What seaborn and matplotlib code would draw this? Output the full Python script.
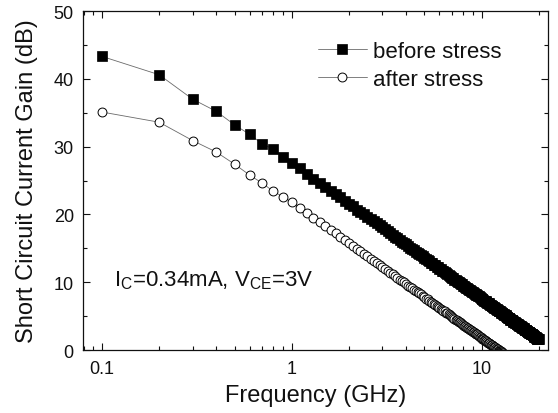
import numpy as np
import matplotlib
matplotlib.use("Agg")
import matplotlib.pyplot as plt
from matplotlib.ticker import LogLocator, MultipleLocator, FixedLocator, FixedFormatter
import seaborn as sns

# Frequency sweep: 0.1 GHz to 20 GHz in 0.1 GHz steps
freq_ghz = np.round(np.arange(1, 201) * 0.1, 1)

# Short-circuit current gain |h21| in dB, before stress (0.1 ... 20.0 GHz)
gain_before = [
    43.3, 40.6, 37.0, 35.2, 33.2, 31.8, 30.4, 29.6, 28.4,
    27.6, 26.8, 26.0, 25.3, 24.7, 24.1, 23.5, 23.0, 22.5, 22.0,
    21.6, 21.2, 20.7, 20.4, 20.0, 19.6, 19.3, 19.0, 18.7, 18.4,
    18.1, 17.8, 17.5, 17.2, 17.0, 16.7, 16.5, 16.2, 16.0, 15.8,
    15.6, 15.3, 15.1, 14.9, 14.7, 14.5, 14.3, 14.2, 14.0, 13.8,
    13.6, 13.4, 13.3, 13.1, 12.9, 12.8, 12.6, 12.5, 12.3, 12.2,
    12.0, 11.9, 11.7, 11.6, 11.5, 11.3, 11.2, 11.1, 10.9, 10.8,
    10.7, 10.6, 10.4, 10.3, 10.2, 10.1, 10.0, 9.9, 9.8, 9.7,
    9.5, 9.4, 9.3, 9.2, 9.1, 9.0, 8.9, 8.8, 8.7, 8.6,
    8.5, 8.4, 8.3, 8.2, 8.1, 8.1, 8.0, 7.9, 7.8, 7.7,
    7.6, 7.5, 7.4, 7.3, 7.3, 7.2, 7.1, 7.0, 6.9, 6.9,
    6.8, 6.7, 6.6, 6.5, 6.5, 6.4, 6.3, 6.2, 6.2, 6.1,
    6.0, 5.9, 5.9, 5.8, 5.7, 5.7, 5.6, 5.5, 5.5, 5.4,
    5.3, 5.3, 5.2, 5.1, 5.1, 5.0, 4.9, 4.9, 4.8, 4.7,
    4.7, 4.6, 4.5, 4.5, 4.4, 4.4, 4.3, 4.2, 4.2, 4.1,
    4.1, 4.0, 4.0, 3.9, 3.9, 3.8, 3.7, 3.7, 3.6, 3.6,
    3.5, 3.5, 3.4, 3.4, 3.3, 3.3, 3.2, 3.2, 3.1, 3.0,
    3.0, 2.9, 2.9, 2.8, 2.8, 2.7, 2.7, 2.6, 2.6, 2.5,
    2.5, 2.5, 2.4, 2.4, 2.3, 2.3, 2.2, 2.2, 2.1, 2.1,
    2.0, 2.0, 1.9, 1.9, 1.8, 1.8, 1.7, 1.7, 1.7, 1.6,
    1.6,
]

# Same quantity after stress (0.1 ... 13.0 GHz, beyond that it falls below 0 dB)
gain_after = [
    35.1, 33.6, 30.9, 29.2, 27.4, 25.8, 24.6, 23.4, 22.6,
    21.8, 21.0, 20.2, 19.5, 18.9, 18.3, 17.7, 17.2, 16.7, 16.2,
    15.8, 15.4, 14.9, 14.6, 14.2, 13.8, 13.5, 13.2, 12.9, 12.6,
    12.3, 12.0, 11.7, 11.4, 11.2, 10.9, 10.7, 10.4, 10.2, 10.0,
    9.8, 9.5, 9.3, 9.1, 8.9, 8.7, 8.5, 8.4, 8.2, 8.0,
    7.8, 7.6, 7.5, 7.3, 7.1, 7.0, 6.8, 6.7, 6.5, 6.4,
    6.2, 6.1, 5.9, 5.8, 5.7, 5.5, 5.4, 5.3, 5.1, 5.0,
    4.9, 4.8, 4.6, 4.5, 4.4, 4.3, 4.2, 4.1, 4.0, 3.9,
    3.7, 3.6, 3.5, 3.4, 3.3, 3.2, 3.1, 3.0, 2.9, 2.8,
    2.7, 2.6, 2.5, 2.4, 2.3, 2.3, 2.2, 2.1, 2.0, 1.9,
    1.8, 1.7, 1.6, 1.5, 1.5, 1.4, 1.3, 1.2, 1.1, 1.1,
    1.0, 0.9, 0.8, 0.7, 0.7, 0.6, 0.5, 0.4, 0.4, 0.3,
    0.2, 0.1, 0.1, 0.0, -0.1, -0.1, -0.2, -0.3, -0.3, -0.4,
    -0.5,
]

series_labels = ["before stress", "after stress"]
x_tick_values = [0.1, 1, 10]
x_tick_labels = ["0.1", "1", "10"]
condition_text = r"I$_\mathregular{C}$=0.34mA, V$_\mathregular{CE}$=3V"

sns.set_theme(style="ticks")
plt.rcParams["font.family"] = ["Liberation Sans", "DejaVu Sans"]
plt.rcParams["mathtext.default"] = "regular"

ink = "#111111"
fig = plt.figure(figsize=(5.58, 4.14), dpi=100)
ax = fig.add_axes([0.1496, 0.152, 0.8324, 0.819])

line_col = "#6a6a6a"
sns.lineplot(x=freq_ghz[:len(gain_before)], y=gain_before, ax=ax,
             color=line_col, linewidth=0.6, marker="s", markersize=6.6,
             markerfacecolor="black", markeredgecolor="black",
             markeredgewidth=0.5, label=series_labels[0], estimator=None)
sns.lineplot(x=freq_ghz[:len(gain_after)], y=gain_after, ax=ax,
             color=line_col, linewidth=0.6, marker="o", markersize=6.4,
             markerfacecolor="white", markeredgecolor="black",
             markeredgewidth=0.7, label=series_labels[1], estimator=None)

ax.set_xscale("log")
ax.set_xlim(0.0798, 22.4)
ax.set_ylim(0, 50)

ax.xaxis.set_major_locator(FixedLocator(x_tick_values))
ax.xaxis.set_major_formatter(FixedFormatter(x_tick_labels))
ax.xaxis.set_minor_locator(LogLocator(base=10, subs=np.arange(2, 10), numticks=20))
ax.yaxis.set_major_locator(MultipleLocator(10))
ax.yaxis.set_minor_locator(MultipleLocator(5))

ax.tick_params(which="both", direction="in", top=True, right=True,
               labelsize=13, colors=ink, pad=7)
ax.tick_params(which="major", length=5, width=0.8)
ax.tick_params(which="minor", length=3, width=0.8)
for sp in ax.spines.values():
    sp.set_linewidth(0.9)
    sp.set_color(ink)

ax.set_xlabel("Frequency (GHz)", fontsize=17, labelpad=5, color=ink)
ax.set_ylabel("Short Circuit Current Gain (dB)", fontsize=17, labelpad=11, color=ink)

ax.text(0.066, 0.208, condition_text, transform=ax.transAxes,
        fontsize=16, color=ink, va="center", ha="left")

leg = ax.legend(loc="upper left", bbox_to_anchor=(0.505, 0.912), frameon=False,
                fontsize=16, handlelength=2.2, handletextpad=0.27,
                labelspacing=0.3, borderpad=0, borderaxespad=0)
for t in leg.get_texts():
    t.set_color(ink)

fig.savefig("out.png", dpi=100)
